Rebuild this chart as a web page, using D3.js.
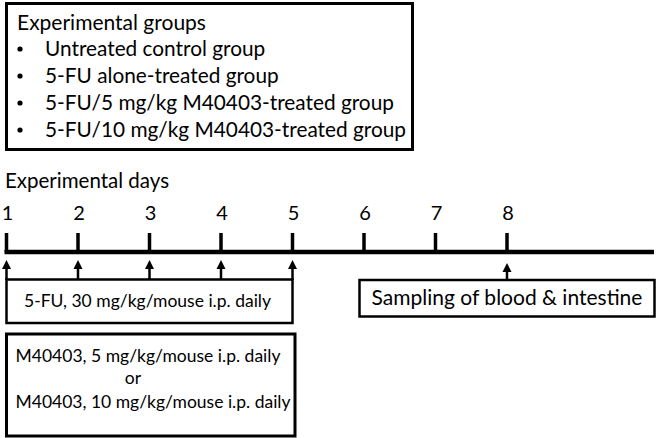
<!DOCTYPE html>
<html><head><meta charset="utf-8">
<script src="https://cdn.jsdelivr.net/npm/d3@7"></script>
<style>html,body{margin:0;padding:0;background:#fff}svg{display:block}</style>
</head><body>
<script>
const title = "Experimental groups";
const groups = ["Untreated control group","5-FU alone-treated group","5-FU/5 mg/kg M40403-treated group","5-FU/10 mg/kg M40403-treated group"];
const daysTitle = "Experimental days";
const days = [1,2,3,4,5,6,7,8];
const dosingDays = [1,2,3,4,5];
const samplingDays = [8];
const fuText = "5-FU, 30 mg/kg/mouse i.p. daily";
const samplingText = "Sampling of blood & intestine";
const mText = ["M40403, 5 mg/kg/mouse i.p. daily","or","M40403, 10 mg/kg/mouse i.p. daily"];

const W=657,H=438;
const font = "Lato, 'Carlito', sans-serif";
const svg = d3.select("body").append("svg").attr("width",W).attr("height",H);
const x = d3.scaleLinear().domain([1,8]).range([6.5,507]);

// top box
svg.append("rect").attr("x",6.5).attr("y",3.5).attr("width",406).attr("height",146)
  .attr("fill","none").attr("stroke","#000").attr("stroke-width",3);
svg.append("text").attr("x",17).attr("y",30).attr("font-family",font).attr("font-size",21).text(title);
const gy = d3.scaleLinear().domain([0,3]).range([56,137]);
groups.forEach((g,i)=>{
  svg.append("circle").attr("cx",20).attr("cy",gy(i)-7).attr("r",2.6).attr("fill","#000");
  svg.append("text").attr("x",45).attr("y",gy(i)).attr("font-family",font).attr("font-size",20.8).text(g);
});

// timeline
svg.append("text").attr("x",5).attr("y",188).attr("font-family",font).attr("font-size",20.5).text(daysTitle);
svg.append("line").attr("x1",4.5).attr("x2",654).attr("y1",252).attr("y2",252).attr("stroke","#000").attr("stroke-width",4.5);
svg.selectAll(".tick").data(days).enter().append("line")
  .attr("x1",d=>x(d)).attr("x2",d=>x(d)).attr("y1",233).attr("y2",252)
  .attr("stroke","#000").attr("stroke-width",3.5);
svg.selectAll(".dl").data(days).enter().append("text")
  .attr("x",d=>x(d)+1).attr("y",219.5).attr("text-anchor","middle")
  .attr("font-family",font).attr("font-size",20).text(d=>d);

function arrow(xc,yTip,yEnd){
  svg.append("line").attr("x1",xc).attr("x2",xc).attr("y1",yTip+5).attr("y2",yEnd).attr("stroke","#000").attr("stroke-width",2.5);
  svg.append("path").attr("d",`M${xc},${yTip} L${xc-4.5},${yTip+9} L${xc+4.5},${yTip+9} Z`).attr("fill","#000");
}
// 5-FU box
svg.append("rect").attr("x",x(1)).attr("y",279.5).attr("width",x(5)-x(1)).attr("height",43.5)
  .attr("fill","none").attr("stroke","#000").attr("stroke-width",2.5);
dosingDays.forEach(d=>arrow(x(d),260,280));
svg.append("text").attr("x",(x(1)+x(5))/2 - 2).attr("y",307).attr("text-anchor","middle")
  .attr("font-family",font).attr("font-size",17.5).text(fuText);

// sampling
samplingDays.forEach(d=>arrow(x(d),263,280));
svg.append("rect").attr("x",359.5).attr("y",280).attr("width",295).attr("height",36.5)
  .attr("fill","none").attr("stroke","#000").attr("stroke-width",2.5);
svg.append("text").attr("x",(359.5+654.5)/2).attr("y",305).attr("text-anchor","middle")
  .attr("font-family",font).attr("font-size",21).text(samplingText);

// M40403 box
svg.append("rect").attr("x",6.5).attr("y",334).attr("width",288.5).attr("height",102)
  .attr("fill","none").attr("stroke","#000").attr("stroke-width",3);
const my=[362,384,408], mx=[148,133,153];
mText.forEach((t,i)=>{
  svg.append("text").attr("x",mx[i]).attr("y",my[i]).attr("text-anchor","middle")
    .attr("font-family",font).attr("font-size",17.5).text(t);
});
</script>
</body></html>
